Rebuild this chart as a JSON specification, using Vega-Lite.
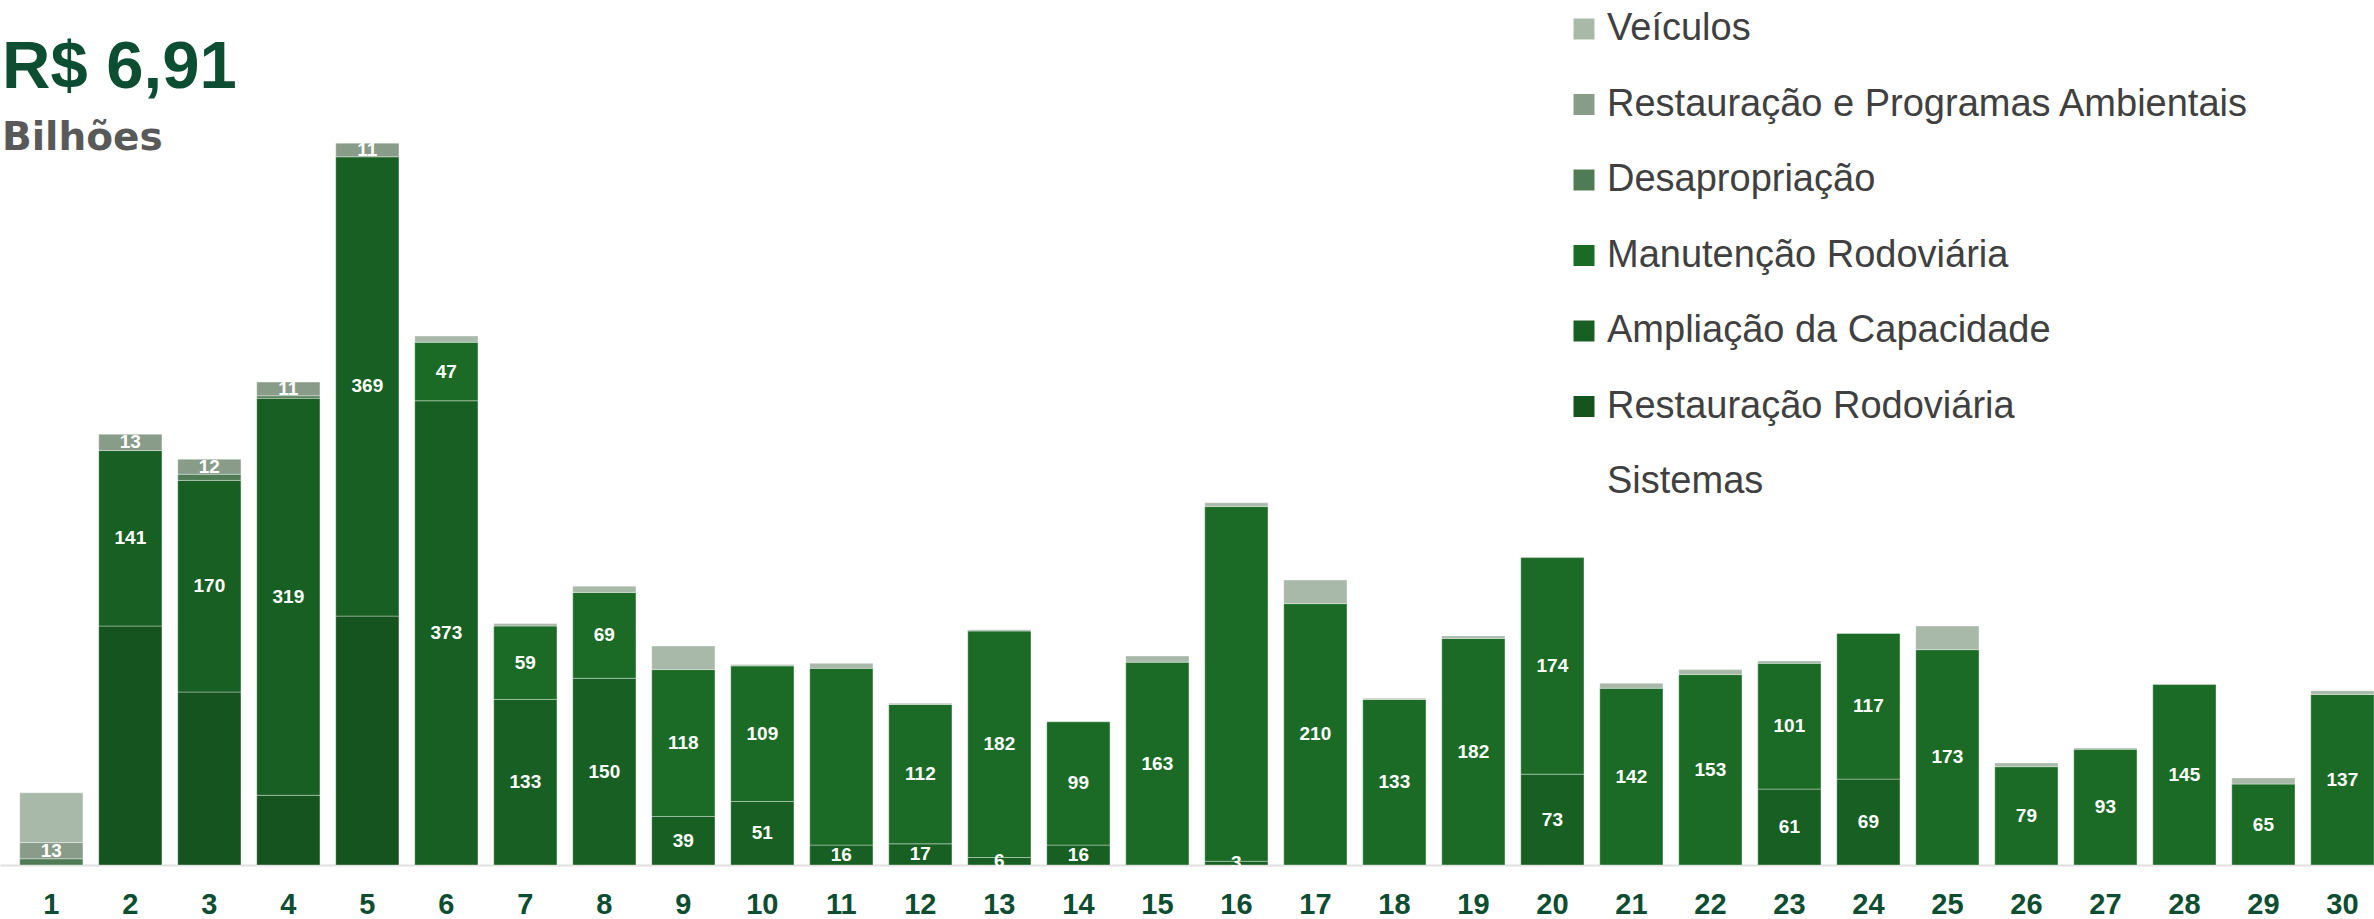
{
  "$schema": "https://vega.github.io/schema/vega-lite/v6.json",
  "width": 2374,
  "height": 865,
  "autosize": {"type": "none"},
  "padding": {"left": 0, "top": 0, "right": 0, "bottom": 54},
  "background": "white",
  "config": {"view": {"stroke": null}, "font": "Liberation Sans"},
  "title": {
    "text": "R$ 6,91",
    "subtitle": "Bilhões",
    "anchor": "start",
    "frame": "group",
    "font": "Liberation Sans",
    "fontSize": 67,
    "fontWeight": "bold",
    "color": "#0d4d31",
    "subtitleFont": "DejaVu Sans",
    "subtitleFontSize": 39,
    "subtitleFontWeight": "bold",
    "subtitleColor": "#595959",
    "subtitlePadding": 17,
    "offset": -159,
    "dx": 2
  },
  "data": {
    "values": [
      {"n": 1, "serie": "Desapropriação", "valor": 5},
      {"n": 1, "serie": "Restauração e Programas Ambientais", "valor": 13, "rotulo": "13"},
      {"n": 1, "serie": "Veículos", "valor": 40},
      {"n": 2, "serie": "Restauração Rodoviária", "valor": 192},
      {"n": 2, "serie": "Ampliação da Capacidade", "valor": 141, "rotulo": "141"},
      {"n": 2, "serie": "Restauração e Programas Ambientais", "valor": 13, "rotulo": "13"},
      {"n": 3, "serie": "Restauração Rodoviária", "valor": 139},
      {"n": 3, "serie": "Ampliação da Capacidade", "valor": 170, "rotulo": "170"},
      {"n": 3, "serie": "Desapropriação", "valor": 5},
      {"n": 3, "serie": "Restauração e Programas Ambientais", "valor": 12, "rotulo": "12"},
      {"n": 4, "serie": "Restauração Rodoviária", "valor": 56},
      {"n": 4, "serie": "Ampliação da Capacidade", "valor": 319, "rotulo": "319"},
      {"n": 4, "serie": "Desapropriação", "valor": 2},
      {"n": 4, "serie": "Restauração e Programas Ambientais", "valor": 11, "rotulo": "11"},
      {"n": 5, "serie": "Restauração Rodoviária", "valor": 200},
      {"n": 5, "serie": "Ampliação da Capacidade", "valor": 369, "rotulo": "369"},
      {"n": 5, "serie": "Restauração e Programas Ambientais", "valor": 11, "rotulo": "11"},
      {"n": 6, "serie": "Ampliação da Capacidade", "valor": 373, "rotulo": "373"},
      {"n": 6, "serie": "Manutenção Rodoviária", "valor": 47, "rotulo": "47"},
      {"n": 6, "serie": "Veículos", "valor": 5},
      {"n": 7, "serie": "Ampliação da Capacidade", "valor": 133, "rotulo": "133"},
      {"n": 7, "serie": "Manutenção Rodoviária", "valor": 59, "rotulo": "59"},
      {"n": 7, "serie": "Veículos", "valor": 2},
      {"n": 8, "serie": "Ampliação da Capacidade", "valor": 150, "rotulo": "150"},
      {"n": 8, "serie": "Manutenção Rodoviária", "valor": 69, "rotulo": "69"},
      {"n": 8, "serie": "Veículos", "valor": 5},
      {"n": 9, "serie": "Ampliação da Capacidade", "valor": 39, "rotulo": "39"},
      {"n": 9, "serie": "Manutenção Rodoviária", "valor": 118, "rotulo": "118"},
      {"n": 9, "serie": "Veículos", "valor": 19},
      {"n": 10, "serie": "Ampliação da Capacidade", "valor": 51, "rotulo": "51"},
      {"n": 10, "serie": "Manutenção Rodoviária", "valor": 109, "rotulo": "109"},
      {"n": 10, "serie": "Veículos", "valor": 1},
      {"n": 11, "serie": "Ampliação da Capacidade", "valor": 16, "rotulo": "16"},
      {"n": 11, "serie": "Manutenção Rodoviária", "valor": 142},
      {"n": 11, "serie": "Veículos", "valor": 4},
      {"n": 12, "serie": "Ampliação da Capacidade", "valor": 17, "rotulo": "17"},
      {"n": 12, "serie": "Manutenção Rodoviária", "valor": 112, "rotulo": "112"},
      {"n": 12, "serie": "Veículos", "valor": 1},
      {"n": 13, "serie": "Ampliação da Capacidade", "valor": 6, "rotulo": "6"},
      {"n": 13, "serie": "Manutenção Rodoviária", "valor": 182, "rotulo": "182"},
      {"n": 13, "serie": "Veículos", "valor": 1},
      {"n": 14, "serie": "Ampliação da Capacidade", "valor": 16, "rotulo": "16"},
      {"n": 14, "serie": "Manutenção Rodoviária", "valor": 99, "rotulo": "99"},
      {"n": 15, "serie": "Manutenção Rodoviária", "valor": 163, "rotulo": "163"},
      {"n": 15, "serie": "Veículos", "valor": 5},
      {"n": 16, "serie": "Ampliação da Capacidade", "valor": 3, "rotulo": "3"},
      {"n": 16, "serie": "Manutenção Rodoviária", "valor": 285},
      {"n": 16, "serie": "Veículos", "valor": 3},
      {"n": 17, "serie": "Manutenção Rodoviária", "valor": 210, "rotulo": "210"},
      {"n": 17, "serie": "Veículos", "valor": 19},
      {"n": 18, "serie": "Manutenção Rodoviária", "valor": 133, "rotulo": "133"},
      {"n": 18, "serie": "Veículos", "valor": 1},
      {"n": 19, "serie": "Manutenção Rodoviária", "valor": 182, "rotulo": "182"},
      {"n": 19, "serie": "Veículos", "valor": 2},
      {"n": 20, "serie": "Ampliação da Capacidade", "valor": 73, "rotulo": "73"},
      {"n": 20, "serie": "Manutenção Rodoviária", "valor": 174, "rotulo": "174"},
      {"n": 21, "serie": "Manutenção Rodoviária", "valor": 142, "rotulo": "142"},
      {"n": 21, "serie": "Veículos", "valor": 4},
      {"n": 22, "serie": "Manutenção Rodoviária", "valor": 153, "rotulo": "153"},
      {"n": 22, "serie": "Veículos", "valor": 4},
      {"n": 23, "serie": "Ampliação da Capacidade", "valor": 61, "rotulo": "61"},
      {"n": 23, "serie": "Manutenção Rodoviária", "valor": 101, "rotulo": "101"},
      {"n": 23, "serie": "Veículos", "valor": 2},
      {"n": 24, "serie": "Ampliação da Capacidade", "valor": 69, "rotulo": "69"},
      {"n": 24, "serie": "Manutenção Rodoviária", "valor": 117, "rotulo": "117"},
      {"n": 25, "serie": "Manutenção Rodoviária", "valor": 173, "rotulo": "173"},
      {"n": 25, "serie": "Veículos", "valor": 19},
      {"n": 26, "serie": "Manutenção Rodoviária", "valor": 79, "rotulo": "79"},
      {"n": 26, "serie": "Veículos", "valor": 3},
      {"n": 27, "serie": "Manutenção Rodoviária", "valor": 93, "rotulo": "93"},
      {"n": 27, "serie": "Veículos", "valor": 1},
      {"n": 28, "serie": "Manutenção Rodoviária", "valor": 145, "rotulo": "145"},
      {"n": 29, "serie": "Manutenção Rodoviária", "valor": 65, "rotulo": "65"},
      {"n": 29, "serie": "Veículos", "valor": 5},
      {"n": 30, "serie": "Manutenção Rodoviária", "valor": 137, "rotulo": "137"},
      {"n": 30, "serie": "Veículos", "valor": 3}
    ]
  },
  "transform": [
    {"calculate": "indexof(['Restauração Rodoviária','Ampliação da Capacidade','Manutenção Rodoviária','Desapropriação','Restauração e Programas Ambientais','Veículos','Sistemas'], datum.serie)", "as": "ordem"},
    {"stack": "valor", "groupby": ["n"], "sort": [{"field": "ordem", "order": "ascending"}], "as": ["v0", "v1"]},
    {"calculate": "(datum.v0 + datum.v1) / 2", "as": "meio"}
  ],
  "encoding": {
    "x": {
      "field": "n",
      "type": "ordinal",
      "scale": {"paddingInner": 0.2, "paddingOuter": 0.125, "align": 1},
      "axis": {
        "title": null,
        "labelAngle": 0,
        "ticks": false,
        "grid": false,
        "labelFont": "Liberation Sans",
        "labelFontWeight": "bold",
        "labelFontSize": 29,
        "labelColor": "#0d4d31",
        "labelPadding": 25,
        "domainColor": "#e0e0e0",
        "domainWidth": 2
      }
    }
  },
  "layer": [
    {
      "mark": {"type": "bar", "stroke": "#ffffff", "strokeOpacity": 0.35, "strokeWidth": 1},
      "encoding": {
        "y": {"field": "v1", "type": "quantitative", "scale": {"domain": [0, 695], "nice": false, "zero": true}, "axis": null},
        "y2": {"field": "v0"},
        "color": {
          "field": "serie",
          "type": "nominal",
          "scale": {
            "domain": ["Veículos", "Restauração e Programas Ambientais", "Desapropriação", "Manutenção Rodoviária", "Ampliação da Capacidade", "Restauração Rodoviária", "Sistemas"],
            "range": ["#a8b9a9", "#889c89", "#4f7b55", "#1b6b27", "#185f23", "#15531f", "rgba(255,255,255,0)"]
          },
          "legend": {
            "orient": "none",
            "legendX": 1565,
            "legendY": 10,
            "title": null,
            "symbolType": "square",
            "symbolSize": 441,
            "symbolStrokeWidth": 0,
            "symbolOpacity": 1,
            "labelFont": "Liberation Sans",
            "labelFontSize": 38,
            "labelColor": "#404040",
            "labelOffset": 4,
            "labelLimit": 1000,
            "rowPadding": 37.5
          }
        }
      }
    },
    {
      "transform": [{"filter": "isValid(datum.rotulo)"}],
      "mark": {"type": "text", "color": "white", "fontWeight": "bold", "fontSize": 19, "baseline": "middle", "font": "Liberation Sans"},
      "encoding": {
        "y": {"field": "meio", "type": "quantitative"},
        "text": {"field": "rotulo", "type": "nominal"}
      }
    }
  ]
}
